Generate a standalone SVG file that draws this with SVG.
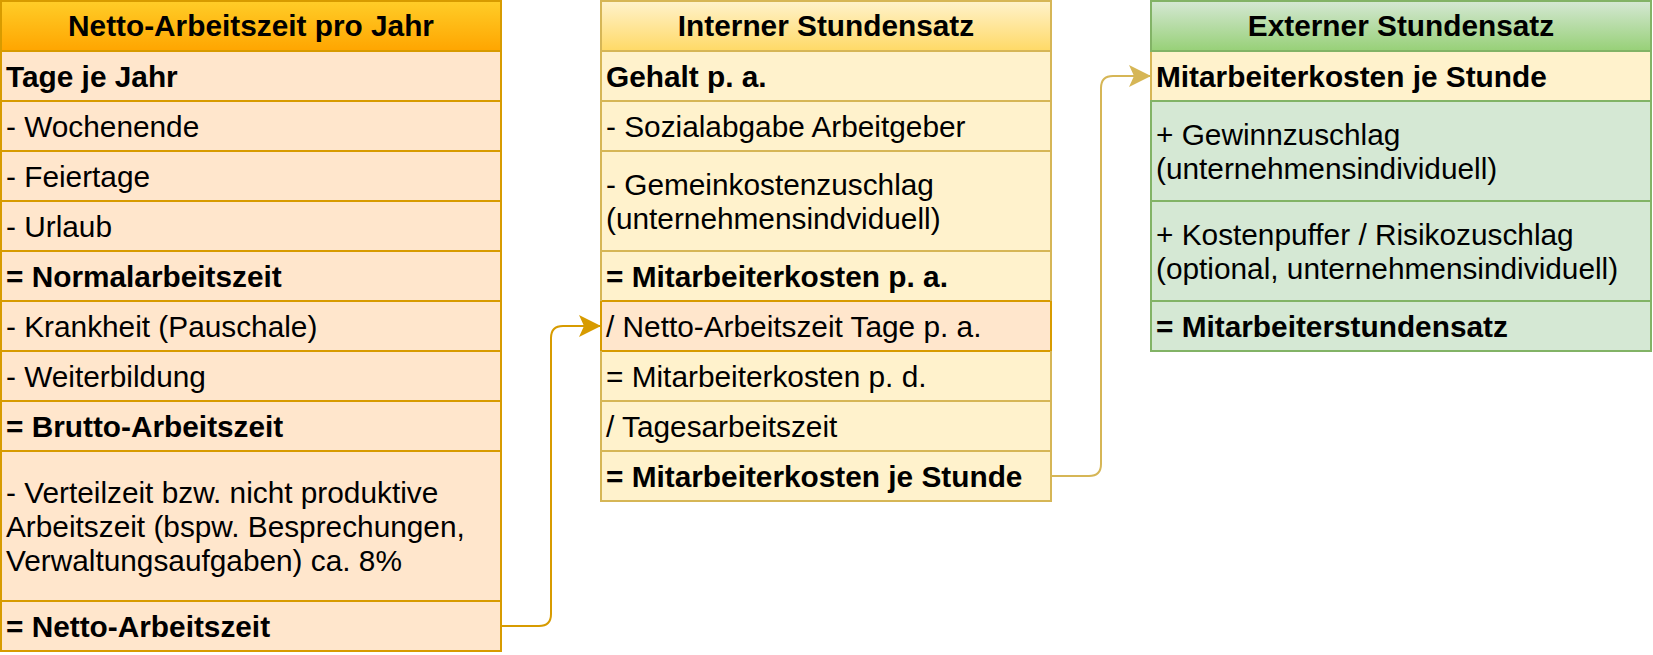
<svg xmlns="http://www.w3.org/2000/svg" width="1653" height="655" viewBox="0 0 1653 655">
<defs>
<linearGradient id="gOrange" x1="0" y1="0" x2="0" y2="1"><stop offset="0" stop-color="#ffcd28"/><stop offset="1" stop-color="#ffa500"/></linearGradient>
<linearGradient id="gYellow" x1="0" y1="0" x2="0" y2="1"><stop offset="0" stop-color="#fff2cc"/><stop offset="1" stop-color="#ffd966"/></linearGradient>
<linearGradient id="gGreen" x1="0" y1="0" x2="0" y2="1"><stop offset="0" stop-color="#d5e8d4"/><stop offset="1" stop-color="#97d077"/></linearGradient>
<marker id="arrO" markerUnits="userSpaceOnUse" markerWidth="24" markerHeight="24" viewBox="0 0 24 24" refX="22" refY="12" orient="auto"><path d="M22,12 L0,1 L5,12 L0,23 Z" fill="#d79b00"/></marker>
<marker id="arrY" markerUnits="userSpaceOnUse" markerWidth="24" markerHeight="24" viewBox="0 0 24 24" refX="22" refY="12" orient="auto"><path d="M22,12 L0,1 L5,12 L0,23 Z" fill="#d6b656"/></marker>
</defs>
<style>
text{font-family:"Liberation Sans",Arial,Helvetica,sans-serif;font-size:29.8px;fill:#000}
.b{font-weight:bold}
.h{font-weight:bold;text-anchor:middle}
.o{fill:#ffe6cc;stroke:#d79b00;stroke-width:2}
.y{fill:#fff2cc;stroke:#d6b656;stroke-width:2}
.g{fill:#d5e8d4;stroke:#82b366;stroke-width:2}
.bo{fill:none;stroke:#d79b00;stroke-width:2}
.by{fill:none;stroke:#d6b656;stroke-width:2}
.bg{fill:none;stroke:#82b366;stroke-width:2}
.c{fill:none;stroke-width:2}
</style>

<g id="netto-arbeitszeit">
<rect class="o" x="1" y="51" width="500" height="50"/>
<rect class="o" x="1" y="101" width="500" height="50"/>
<rect class="o" x="1" y="151" width="500" height="50"/>
<rect class="o" x="1" y="201" width="500" height="50"/>
<rect class="o" x="1" y="251" width="500" height="50"/>
<rect class="o" x="1" y="301" width="500" height="50"/>
<rect class="o" x="1" y="351" width="500" height="50"/>
<rect class="o" x="1" y="401" width="500" height="50"/>
<rect class="o" x="1" y="451" width="500" height="150"/>
<rect class="o" x="1" y="601" width="500" height="50"/>
<rect x="1" y="1" width="500" height="50" fill="url(#gOrange)" stroke="#d79b00" stroke-width="2"/>
<rect class="bo" x="1" y="1" width="500" height="650"/>
<text class="h" x="251" y="36">Netto-Arbeitszeit pro Jahr</text>
<text class="b" x="6" y="86.7">Tage je Jahr</text>
<text x="6" y="136.7">- Wochenende</text>
<text x="6" y="186.7">- Feiertage</text>
<text x="6" y="236.7">- Urlaub</text>
<text class="b" x="6" y="286.7">= Normalarbeitszeit</text>
<text x="6" y="336.7">- Krankheit (Pauschale)</text>
<text x="6" y="386.7">- Weiterbildung</text>
<text class="b" x="6" y="436.7">= Brutto-Arbeitszeit</text>
<text x="6" y="502.6">- Verteilzeit bzw. nicht produktive</text>
<text x="6" y="536.8">Arbeitszeit (bspw. Besprechungen,</text>
<text x="6" y="571">Verwaltungsaufgaben) ca. 8%</text>
<text class="b" x="6" y="636.7">= Netto-Arbeitszeit</text>
</g>

<g id="interner-stundensatz">
<rect class="y" x="601" y="51" width="450" height="50"/>
<rect class="y" x="601" y="101" width="450" height="50"/>
<rect class="y" x="601" y="151" width="450" height="100"/>
<rect class="y" x="601" y="251" width="450" height="50"/>
<rect class="y" x="601" y="351" width="450" height="50"/>
<rect class="y" x="601" y="401" width="450" height="50"/>
<rect class="y" x="601" y="451" width="450" height="50"/>
<rect class="o" x="601" y="301" width="450" height="50"/>
<rect x="601" y="1" width="450" height="50" fill="url(#gYellow)" stroke="#d6b656" stroke-width="2"/>
<path class="by" d="M601,301 V51 M601,351 V501 H1051 V351 M1051,301 V51"/>
<text class="h" x="826" y="36">Interner Stundensatz</text>
<text class="b" x="606" y="86.7">Gehalt p. a.</text>
<text x="606" y="136.7">- Sozialabgabe Arbeitgeber</text>
<text x="606" y="194.6">- Gemeinkostenzuschlag</text>
<text x="606" y="228.8">(unternehmensindviduell)</text>
<text class="b" x="606" y="286.7">= Mitarbeiterkosten p. a.</text>
<text x="606" y="336.7">/ Netto-Arbeitszeit Tage p. a.</text>
<text x="606" y="386.7">= Mitarbeiterkosten p. d.</text>
<text x="606" y="436.7">/ Tagesarbeitszeit</text>
<text class="b" x="606" y="486.7">= Mitarbeiterkosten je Stunde</text>
</g>

<g id="externer-stundensatz">
<rect class="y" x="1151" y="51" width="500" height="50"/>
<rect class="g" x="1151" y="101" width="500" height="100"/>
<rect class="g" x="1151" y="201" width="500" height="100"/>
<rect class="g" x="1151" y="301" width="500" height="50"/>
<rect x="1151" y="1" width="500" height="50" fill="url(#gGreen)" stroke="#82b366" stroke-width="2"/>
<path class="bg" d="M1151,101 V351 H1651 V51"/>
<text class="h" x="1401" y="36">Externer Stundensatz</text>
<text class="b" x="1156" y="86.7">Mitarbeiterkosten je Stunde</text>
<text x="1156" y="144.6">+ Gewinnzuschlag</text>
<text x="1156" y="178.8">(unternehmensindividuell)</text>
<text x="1156" y="244.6">+ Kostenpuffer / Risikozuschlag</text>
<text x="1156" y="278.8">(optional, unternehmensindividuell)</text>
<text class="b" x="1156" y="336.7">= Mitarbeiterstundensatz</text>
</g>

<g id="connectors">
<path class="c" stroke="#d79b00" d="M501,626 H539 Q551,626 551,614 V338 Q551,326 563,326 H601" marker-end="url(#arrO)"/>
<path class="c" stroke="#d6b656" d="M1051,476 H1089 Q1101,476 1101,464 V88 Q1101,76 1113,76 H1151" marker-end="url(#arrY)"/>
</g>
</svg>
